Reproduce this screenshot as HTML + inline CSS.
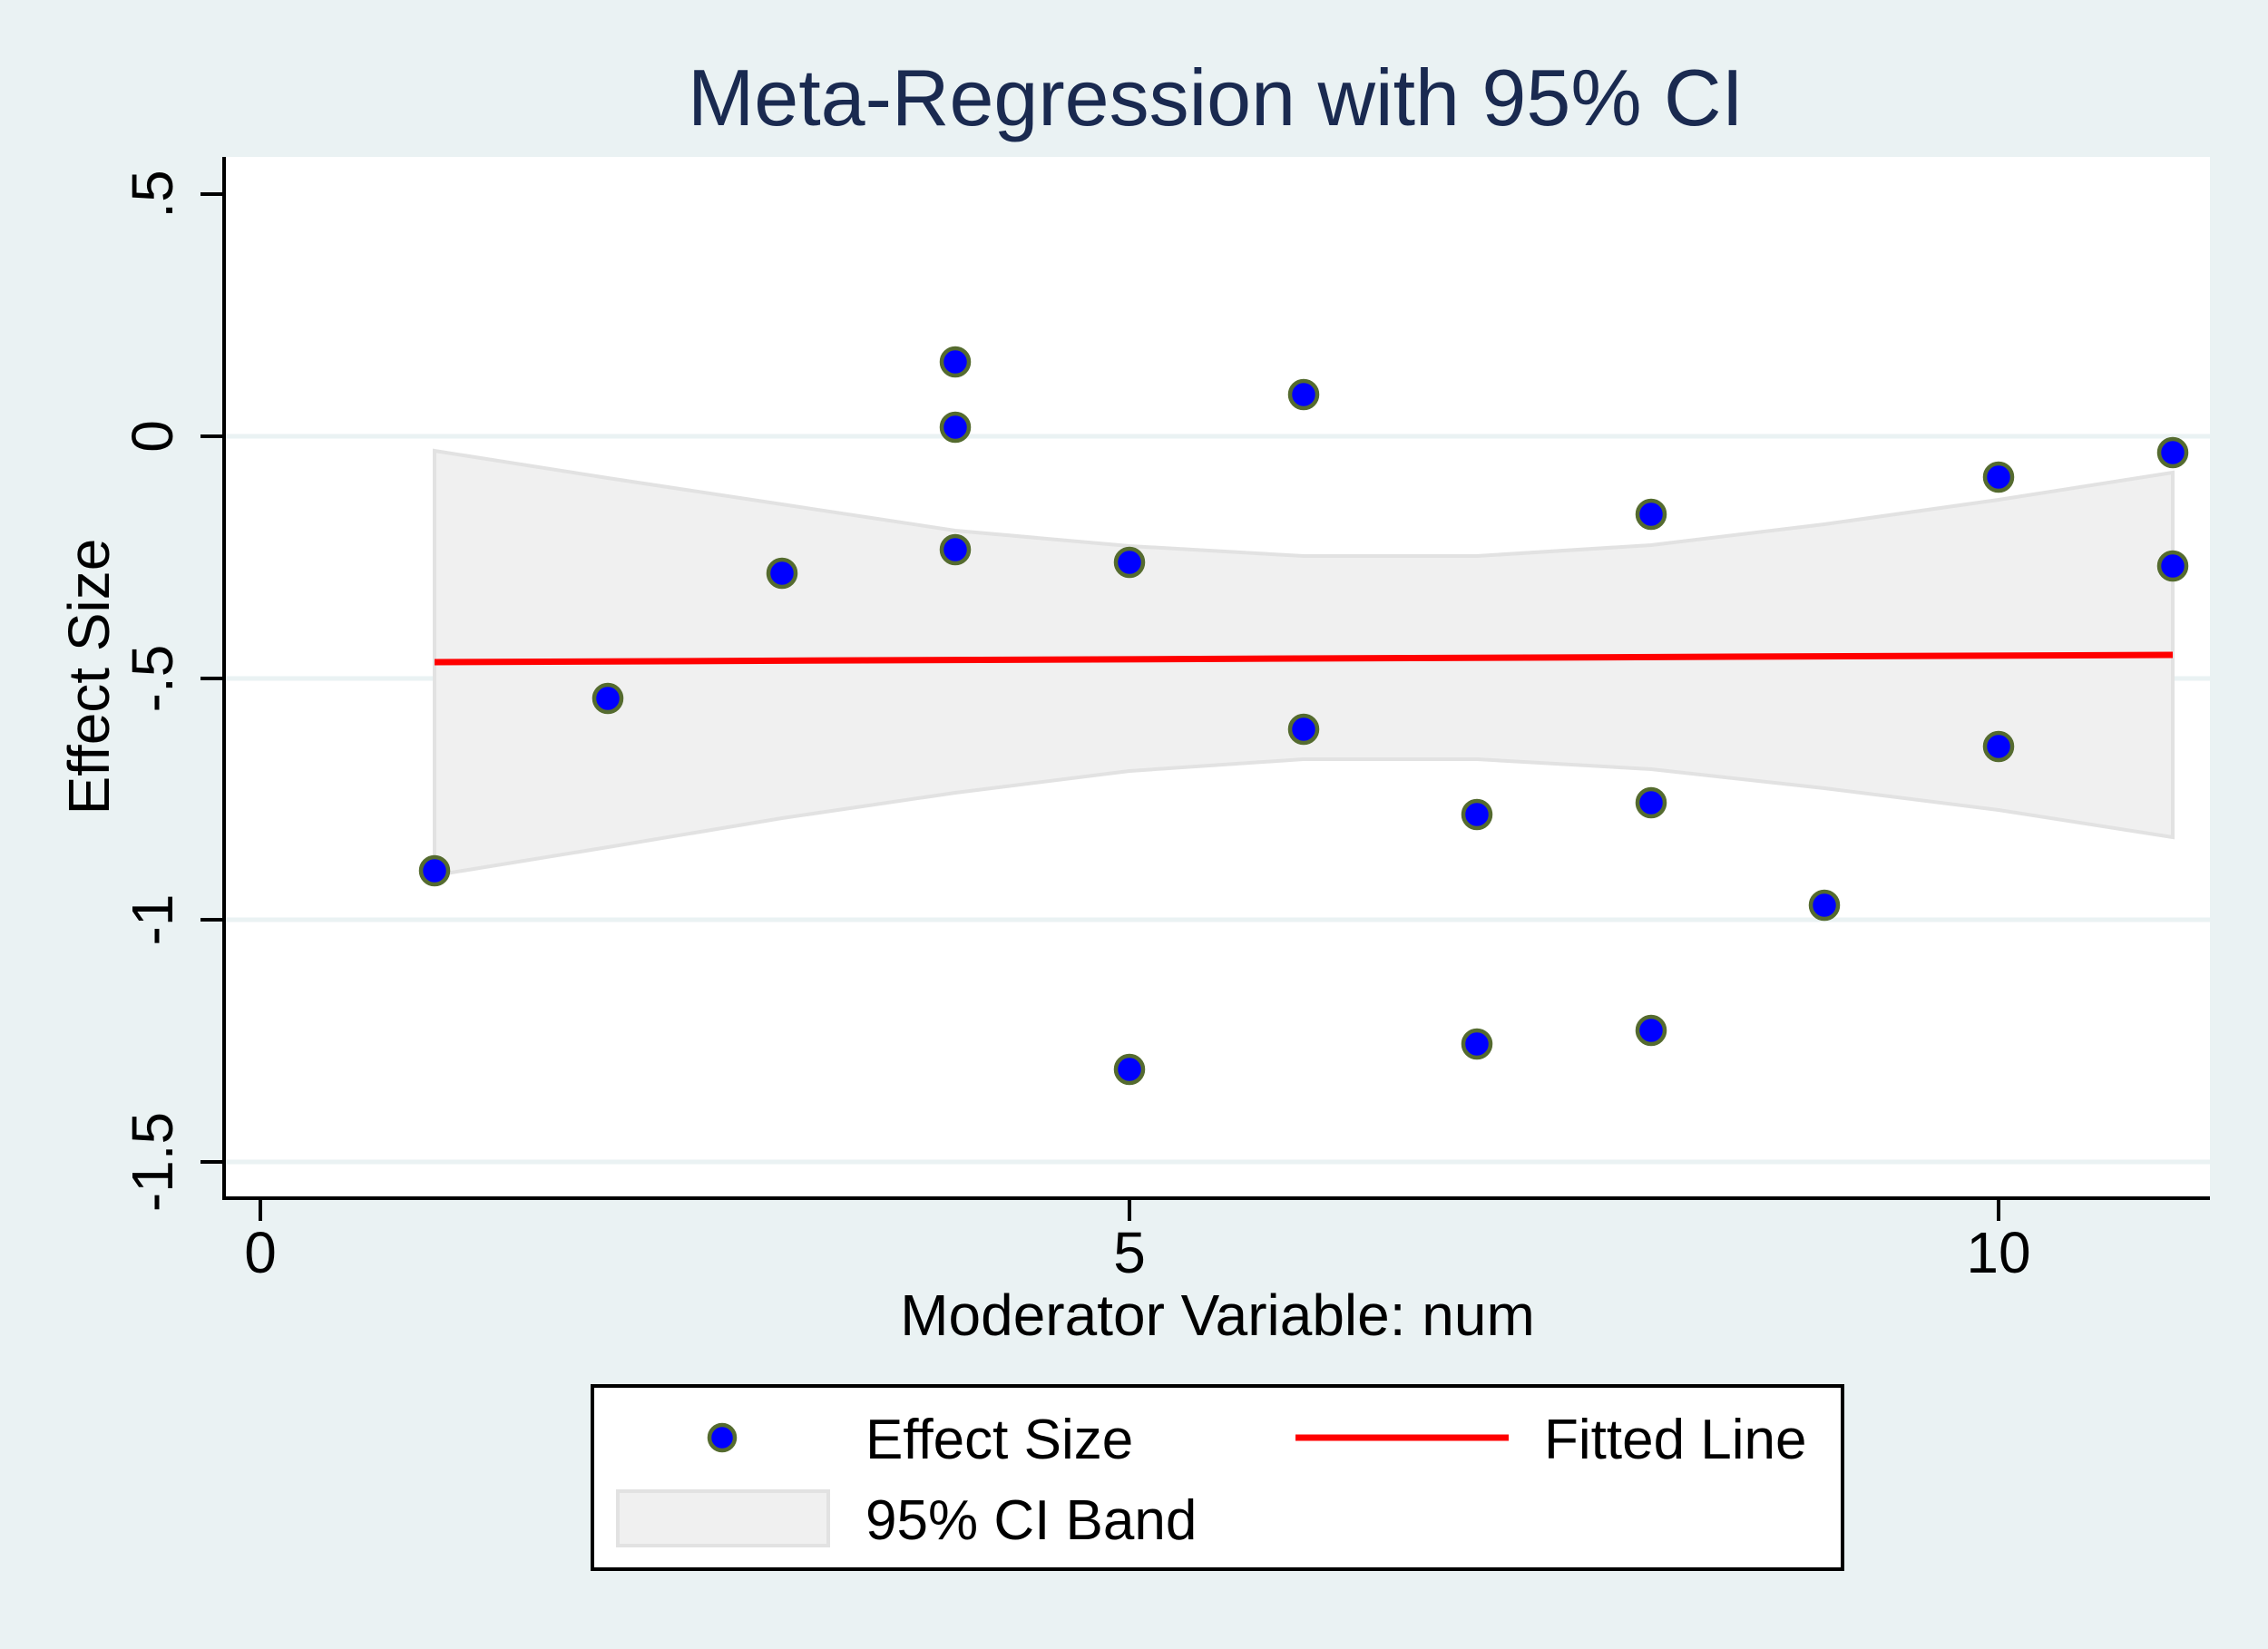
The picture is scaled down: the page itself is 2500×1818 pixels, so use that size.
<!DOCTYPE html>
<html><head><meta charset="utf-8"><style>html,body{margin:0;padding:0;background:#eaf2f3}svg{display:block}</style></head>
<body>
<svg width="2500" height="1818" viewBox="0 0 2500 1818" xmlns="http://www.w3.org/2000/svg" font-family="Liberation Sans, Arial, sans-serif">
<rect width="2500" height="1818" fill="#eaf2f3"/>
<text x="1340" y="138" font-size="88" fill="#1a2a50" text-anchor="middle">Meta-Regression with 95% CI</text>
<rect x="247" y="173" width="2189" height="1148" fill="#fff"/>
<g stroke="#eaf2f3" stroke-width="5">
<line x1="249" x2="2436" y1="481" y2="481"/><line x1="249" x2="2436" y1="748" y2="748"/>
<line x1="249" x2="2436" y1="1014" y2="1014"/><line x1="249" x2="2436" y1="1281" y2="1281"/>
</g>
<polygon points="479,497 670,527 862,556 1053,585 1245,602 1437,613 1628,613 1820,601 2011,578 2203,551 2395,521 2395,923 2203,893 2011,869 1820,848 1628,837 1437,837 1245,850 1053,874 862,902 670,934 479,965" fill="#f0f0f0" stroke="#e2e2e2" stroke-width="4"/>
<line x1="479" y1="730" x2="2395" y2="722" stroke="#ff0000" stroke-width="7"/>
<g fill="#0000ff" stroke="#556b2f" stroke-width="4.5">
<circle cx="479" cy="960" r="15"/><circle cx="670" cy="770" r="15"/><circle cx="862" cy="632" r="15"/>
<circle cx="1053" cy="399" r="15"/><circle cx="1053" cy="471" r="15"/><circle cx="1053" cy="606" r="15"/>
<circle cx="1245" cy="620" r="15"/><circle cx="1245" cy="1179" r="15"/><circle cx="1437" cy="435" r="15"/>
<circle cx="1437" cy="804" r="15"/><circle cx="1628" cy="898" r="15"/><circle cx="1628" cy="1151" r="15"/>
<circle cx="1820" cy="567" r="15"/><circle cx="1820" cy="885" r="15"/><circle cx="1820" cy="1136" r="15"/>
<circle cx="2011" cy="998" r="15"/><circle cx="2203" cy="526" r="15"/><circle cx="2203" cy="823" r="15"/>
<circle cx="2395" cy="499" r="15"/><circle cx="2395" cy="624" r="15"/>
</g>
<g stroke="#000" stroke-width="4">
<line x1="247" y1="173" x2="247" y2="1323"/><line x1="245" y1="1321" x2="2436" y2="1321"/>
<line x1="221" x2="247" y1="214" y2="214"/><line x1="221" x2="247" y1="481" y2="481"/>
<line x1="221" x2="247" y1="748" y2="748"/><line x1="221" x2="247" y1="1014" y2="1014"/>
<line x1="221" x2="247" y1="1281" y2="1281"/>
<line x1="287" x2="287" y1="1321" y2="1346"/><line x1="1245" x2="1245" y1="1321" y2="1346"/>
<line x1="2203" x2="2203" y1="1321" y2="1346"/>
</g>
<g font-size="64" fill="#000" text-anchor="middle">
<text transform="translate(190,214) rotate(-90)">.5</text>
<text transform="translate(190,481) rotate(-90)">0</text>
<text transform="translate(190,748) rotate(-90)">-.5</text>
<text transform="translate(190,1014) rotate(-90)">-1</text>
<text transform="translate(190,1281) rotate(-90)">-1.5</text>
<text x="287" y="1403">0</text><text x="1245" y="1403">5</text><text x="2203" y="1403">10</text>
<text transform="translate(120,746) rotate(-90)">Effect Size</text>
<text x="1342" y="1472">Moderator Variable: num</text>
</g>
<rect x="653" y="1528" width="1378" height="202" fill="#fff" stroke="#000" stroke-width="4"/>
<circle cx="796" cy="1585" r="14" fill="#0000ff" stroke="#556b2f" stroke-width="4.5"/>
<rect x="681" y="1644" width="232" height="60" fill="#f0f0f0" stroke="#e2e2e2" stroke-width="4"/>
<line x1="1428" y1="1585" x2="1663" y2="1585" stroke="#ff0000" stroke-width="7"/>
<g font-size="62" fill="#000">
<text x="954" y="1608">Effect Size</text>
<text x="954" y="1697">95% CI Band</text>
<text x="1702" y="1608">Fitted Line</text>
</g>
</svg>
</body></html>
